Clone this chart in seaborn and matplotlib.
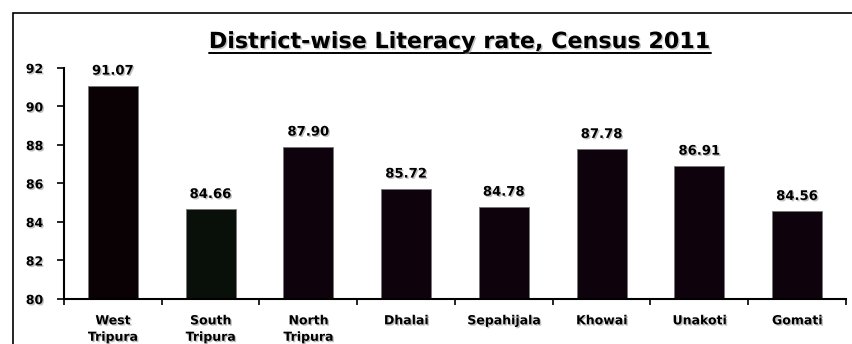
import matplotlib
matplotlib.use("Agg")
import matplotlib.pyplot as plt
import matplotlib.patheffects as pe
import seaborn as sns
from matplotlib.patches import Rectangle
from matplotlib.lines import Line2D

# District-wise literacy rate, Census 2011
districts = ["West\nTripura", "South\nTripura", "North\nTripura", "Dhalai",
             "Sepahijala", "Khowai", "Unakoti", "Gomati"]
rates = [91.07, 84.66, 87.90, 85.72, 84.78, 87.78, 86.91, 84.56]
bar_colors = ["#0b0004", "#081008", "#10000f", "#10000f",
              "#10000f", "#10000f", "#10000f", "#10000f"]
yticks = [80, 82, 84, 86, 88, 90, 92]

sns.set_style("white")
plt.rcParams['font.family'] = ['DejaVu Sans']
plt.rcParams['text.color'] = 'black'
plt.rcParams['xtick.color'] = 'black'
plt.rcParams['ytick.color'] = 'black'

shadow = [pe.withSimplePatchShadow(offset=(1, -1), shadow_rgbFace='#999999', alpha=0.6)]

fig = plt.figure(figsize=(8.53, 3.44), dpi=100)
ax = fig.add_axes([64 / 853, 1 - 299 / 344, (846 - 64) / 853, (299 - 68) / 344])

sns.barplot(x=districts, y=rates, hue=districts, palette=bar_colors,
            width=0.51, legend=False, ax=ax, edgecolor="#777777", linewidth=0.6)

ax.set_ylim(80, 92)
ax.set_xlim(-0.5, len(districts) - 0.5)
ax.set_yticks(yticks)
ax.set_yticklabels([str(t) for t in yticks], fontsize=9, fontweight='heavy')
ax.tick_params(axis='y', direction='out', length=5, width=1.2, pad=10, left=True)

# ticks sit between categories, labels at category centres
ax.set_xticks([i + 0.5 for i in range(-1, len(districts))], minor=False)
ax.set_xticklabels([])
ax.set_xticks(range(len(districts)), minor=True)
ax.set_xticklabels(districts, minor=True, fontsize=9, fontweight='heavy', linespacing=1.35)
ax.tick_params(axis='x', which='major', direction='out', length=4, width=1.2, bottom=True)
ax.tick_params(axis='x', which='minor', length=0, pad=11)
ax.set_xlabel("")
ax.set_ylabel("")

for lab in ax.get_yticklabels() + ax.get_xticklabels(minor=True):
    lab.set_path_effects(shadow)

for side in ["top", "right"]:
    ax.spines[side].set_visible(False)
for side in ["left", "bottom"]:
    ax.spines[side].set_linewidth(1.5)
    ax.spines[side].set_color("black")

for c in ax.containers:
    for t in ax.bar_label(c, fmt="%.2f", padding=6, fontsize=9.5, fontweight='heavy'):
        t.set_path_effects(shadow)

# title with underline
title = fig.text(460 / 853, 1 - 42 / 344, "District-wise Literacy rate, Census 2011",
                 ha='center', va='center', fontsize=16, fontweight='heavy',
                 path_effects=shadow)
fig.canvas.draw()
bb = title.get_window_extent().transformed(fig.transFigure.inverted())
fig.add_artist(Line2D([bb.x0, bb.x1], [bb.y0 - 0.002, bb.y0 - 0.002],
                      transform=fig.transFigure, color='black', linewidth=1.4))

# outer frame (only the left and top edges fall inside the picture)
fig.add_artist(Rectangle((13 / 853, -0.2), 1.1, 1.2 - 13 / 344,
                         transform=fig.transFigure, fill=False,
                         edgecolor='black', linewidth=1.2))

plt.savefig("out.png", dpi=100)
